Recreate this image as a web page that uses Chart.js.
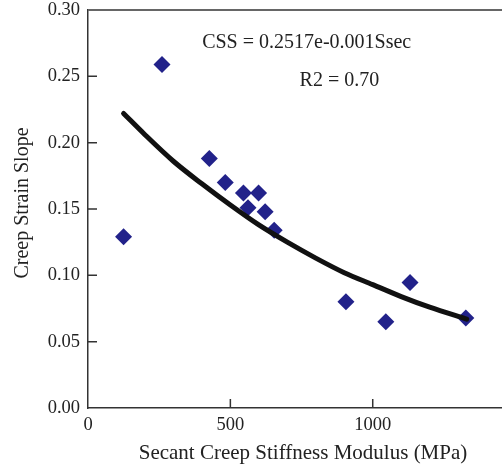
<!DOCTYPE html>
<html lang="en">
<head>
    <meta charset="UTF-8">
    <title>Creep Strain Slope vs Secant Creep Stiffness Modulus</title>
    <script src="https://cdn.jsdelivr.net/npm/chart.js"></script>
    <style>
        body { margin: 0; background: #fff; }
        #chart { display: block; }
    </style>
</head>
<body>
    <canvas id="chart" width="502" height="466"></canvas>

    <script>
        // Measured points (Ssec in MPa, creep strain slope)
        const stiffness = [125, 260, 426, 482, 546, 562, 599, 622, 654, 906, 1046, 1131, 1327];
        const strainSlope = [0.129, 0.259, 0.188, 0.170, 0.162, 0.151, 0.162, 0.148, 0.134, 0.080, 0.065, 0.0946, 0.0678];

        // Fitted curve
        const fitX = [125, 200, 300, 400, 500, 600, 700, 800, 900, 1000, 1100, 1200, 1330];
        const fitY = [0.222, 0.206, 0.186, 0.169, 0.153, 0.138, 0.125, 0.113, 0.102, 0.093, 0.084, 0.076, 0.067];

        // Axis ticks
        const xTicks = [0, 500, 1000];
        const yTicks = [0, 0.05, 0.10, 0.15, 0.20, 0.25, 0.30];

        const xTitle = 'Secant Creep Stiffness Modulus (MPa)';
        const yTitle = 'Creep Strain Slope';
        const equationLines = ['CSS = 0.2517e-0.001Ssec', 'R2 = 0.70'];

        const serif = "'Liberation Serif', 'Times New Roman', serif";
        const textColor = '#222';

        const pts = stiffness.map((x, i) => ({ x: x, y: strainSlope[i] }));
        const fit = fitX.map((x, i) => ({ x: x, y: fitY[i] }));

        // inward tick marks, top frame line, axis titles and the equation text
        const decorations = {
            id: 'decorations',
            afterDraw(chart) {
                const { ctx, chartArea, scales } = chart;
                const xs = scales.x, ys = scales.y;
                ctx.save();
                ctx.strokeStyle = '#333';
                ctx.lineWidth = 1.5;
                ctx.beginPath();
                yTicks.slice(1, -1).forEach(v => {
                    const py = ys.getPixelForValue(v);
                    ctx.moveTo(chartArea.left, py);
                    ctx.lineTo(chartArea.left + 9, py);
                });
                xTicks.slice(1).forEach(v => {
                    const px = xs.getPixelForValue(v);
                    ctx.moveTo(px, chartArea.bottom);
                    ctx.lineTo(px, chartArea.bottom - 9);
                });
                ctx.stroke();

                ctx.strokeStyle = '#666';
                ctx.lineWidth = 2;
                ctx.beginPath();
                ctx.moveTo(chartArea.left, chartArea.top);
                ctx.lineTo(chartArea.right, chartArea.top);
                ctx.stroke();

                ctx.fillStyle = textColor;
                ctx.textAlign = 'center';
                ctx.textBaseline = 'middle';
                ctx.font = '20px ' + serif;
                ctx.fillText(equationLines[0], xs.getPixelForValue(768), ys.getPixelForValue(0.275));
                ctx.fillText(equationLines[1], xs.getPixelForValue(883), ys.getPixelForValue(0.247));

                ctx.font = '21px ' + serif;
                ctx.fillText(xTitle, 303, 453);
                ctx.font = '20px ' + serif;
                ctx.translate(23, 203);
                ctx.rotate(-Math.PI / 2);
                ctx.fillText(yTitle, 0, 0);
                ctx.restore();
            }
        };

        new Chart(document.getElementById('chart'), {
            type: 'scatter',
            data: {
                datasets: [
                    {
                        label: 'Fit',
                        data: fit,
                        showLine: true,
                        borderColor: '#111',
                        borderWidth: 5,
                        borderCapStyle: 'round',
                        cubicInterpolationMode: 'monotone',
                        pointRadius: 0,
                        order: 0
                    },
                    {
                        label: 'Measured',
                        data: pts,
                        pointStyle: 'rectRot',
                        pointRadius: 8.5,
                        pointBackgroundColor: '#22228a',
                        pointBorderWidth: 0,
                        order: 1
                    }
                ]
            },
            options: {
                responsive: false,
                animation: false,
                layout: { autoPadding: false, padding: { top: 10, right: 0, left: 0, bottom: 0 } },
                plugins: {
                    legend: { display: false },
                    tooltip: { enabled: false }
                },
                scales: {
                    x: {
                        type: 'linear',
                        min: 0,
                        max: 1454,
                        afterBuildTicks: s => { s.ticks = xTicks.map(v => ({ value: v })); },
                        afterFit: s => {
                            s.height = 58;
                            s.paddingLeft = 0;
                            s.paddingRight = 0;
                        },
                        grid: { display: false, drawTicks: false },
                        border: { display: true, color: '#333', width: 1.5 },
                        ticks: {
                            padding: 6,
                            maxRotation: 0,
                            color: textColor,
                            font: { family: serif, size: 18.5 },
                            callback: v => String(v)
                        }
                    },
                    y: {
                        type: 'linear',
                        min: 0,
                        max: 0.3,
                        afterBuildTicks: s => { s.ticks = yTicks.map(v => ({ value: v })); },
                        afterFit: s => {
                            s.width = 88;
                            s.paddingTop = 0;
                            s.paddingBottom = 0;
                        },
                        grid: { display: false, drawTicks: false },
                        border: { display: true, color: '#333', width: 1.5 },
                        ticks: {
                            padding: 8,
                            color: textColor,
                            font: { family: serif, size: 18.5 },
                            callback: v => v.toFixed(2)
                        }
                    }
                }
            },
            plugins: [decorations]
        });
    </script>
</body>
</html>
